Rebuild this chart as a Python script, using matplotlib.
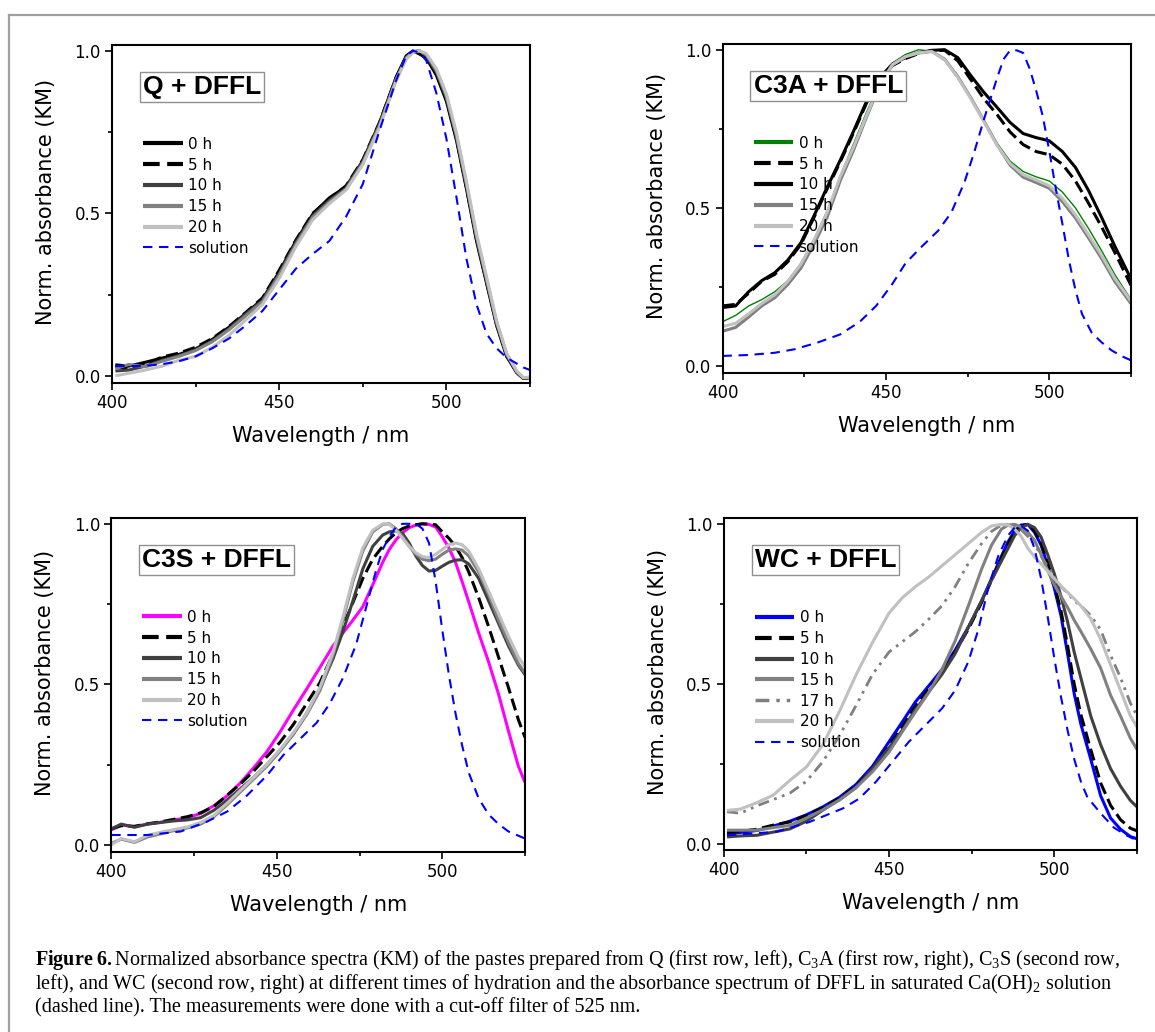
import matplotlib
matplotlib.use("Agg")
import matplotlib.pyplot as plt
from matplotlib.lines import Line2D

plt.rcParams["font.family"] = ["DejaVu Sans"]
plt.rcParams["mathtext.fontset"] = "custom"
plt.rcParams["mathtext.rm"] = "Liberation Serif"
plt.rcParams["mathtext.it"] = "Liberation Serif:italic"
plt.rcParams["mathtext.bf"] = "Liberation Serif:bold"

#DATA
#Q + DFFL
q_wl = [401, 405, 410, 415, 420, 425, 430, 435, 440, 445, 450, 455, 460, 465, 470, 475, 480, 485, 488, 490,
        492, 494, 497, 500, 503, 506, 509, 512, 515, 518, 521, 523, 525]
q_0h = [0.034, 0.030, 0.042, 0.055, 0.066, 0.083, 0.112, 0.150, 0.192, 0.236, 0.320, 0.415, 0.497, 0.548, 0.582,
        0.662, 0.778, 0.920, 0.985, 1.000, 0.990, 0.978, 0.925, 0.845, 0.725, 0.575, 0.415, 0.285, 0.155, 0.060,
        0.010, -0.008, -0.005]
q_5h = [0.028, 0.022, 0.035, 0.058, 0.070, 0.088, 0.115, 0.152, 0.195, 0.240, 0.325, 0.418, 0.500, 0.545, 0.585,
        0.665, 0.780, 0.918, 0.982, 0.998, 0.995, 0.980, 0.930, 0.850, 0.730, 0.580, 0.420, 0.290, 0.160, 0.062,
        0.012, -0.008, -0.005]
q_10h = [0.015, 0.018, 0.030, 0.048, 0.062, 0.080, 0.108, 0.145, 0.190, 0.232, 0.315, 0.410, 0.492, 0.540, 0.578,
         0.660, 0.775, 0.915, 0.980, 0.998, 1.000, 0.985, 0.935, 0.855, 0.735, 0.585, 0.425, 0.292, 0.160, 0.065,
         0.012, -0.008, -0.005]
q_15h = [0.022, 0.035, 0.028, 0.045, 0.060, 0.078, 0.105, 0.142, 0.185, 0.228, 0.310, 0.405, 0.488, 0.535, 0.575,
         0.655, 0.770, 0.912, 0.978, 0.997, 1.000, 0.988, 0.940, 0.860, 0.740, 0.590, 0.430, 0.298, 0.165, 0.068,
         0.014, -0.006, -0.005]
q_20h = [0.000, 0.008, 0.018, 0.030, 0.048, 0.060, 0.088, 0.125, 0.172, 0.220, 0.300, 0.398, 0.480, 0.530, 0.572,
         0.650, 0.765, 0.908, 0.975, 0.995, 1.000, 0.992, 0.945, 0.868, 0.748, 0.598, 0.438, 0.305, 0.170, 0.070,
         0.015, -0.005, -0.004]
q_sol = [0.030, 0.030, 0.031, 0.036, 0.045, 0.060, 0.085, 0.115, 0.155, 0.200, 0.265, 0.330, 0.375, 0.415, 0.490,
         0.590, 0.755, 0.910, 0.985, 1.000, 0.995, 0.970, 0.870, 0.730, 0.550, 0.360, 0.220, 0.130, 0.085, 0.056,
         0.038, 0.026, 0.018]

#C3A + DFFL
c3a_wl = [400, 404, 408, 412, 416, 420, 424, 428, 432, 436, 440, 444, 448, 452, 456, 460, 464, 468, 472, 476,
          480, 484, 488, 492, 496, 500, 504, 508, 512, 516, 520, 525]
c3a_0h = [0.140, 0.160, 0.190, 0.210, 0.235, 0.270, 0.325, 0.400, 0.490, 0.600, 0.700, 0.800, 0.895, 0.958, 0.985,
          1.000, 0.995, 0.965, 0.910, 0.845, 0.775, 0.705, 0.648, 0.615, 0.598, 0.585, 0.550, 0.500, 0.435, 0.365,
          0.290, 0.210]
c3a_5h = [0.190, 0.195, 0.230, 0.268, 0.290, 0.330, 0.385, 0.470, 0.560, 0.645, 0.735, 0.830, 0.905, 0.950, 0.972,
          0.988, 0.997, 0.998, 0.965, 0.905, 0.845, 0.795, 0.740, 0.700, 0.678, 0.668, 0.638, 0.585, 0.515, 0.440,
          0.360, 0.255]
c3a_10h = [0.185, 0.190, 0.235, 0.270, 0.295, 0.335, 0.390, 0.475, 0.565, 0.650, 0.740, 0.835, 0.910, 0.955, 0.975,
           0.990, 0.998, 1.000, 0.975, 0.918, 0.865, 0.818, 0.770, 0.735, 0.722, 0.712, 0.678, 0.628, 0.555, 0.470,
           0.380, 0.275]
c3a_15h = [0.110, 0.122, 0.155, 0.190, 0.216, 0.258, 0.310, 0.385, 0.470, 0.585, 0.680, 0.785, 0.885, 0.952, 0.978,
           0.990, 0.995, 0.970, 0.915, 0.848, 0.775, 0.700, 0.635, 0.597, 0.580, 0.562, 0.520, 0.468, 0.405, 0.340,
           0.268, 0.197]
c3a_20h = [0.125, 0.135, 0.165, 0.198, 0.225, 0.268, 0.322, 0.398, 0.485, 0.598, 0.690, 0.790, 0.888, 0.953, 0.978,
           0.990, 0.994, 0.968, 0.912, 0.845, 0.772, 0.698, 0.640, 0.605, 0.588, 0.570, 0.530, 0.478, 0.415, 0.350,
           0.278, 0.205]
c3a_sol_wl = [400, 408, 416, 422, 429, 436, 442, 447, 452, 456, 461, 466, 470, 474, 477, 480, 482, 484, 486, 488,
              490, 492, 494, 496, 498, 500, 502, 504, 506, 508, 510, 513, 516, 519, 522, 525]
c3a_sol = [0.032, 0.035, 0.042, 0.053, 0.074, 0.100, 0.140, 0.190, 0.260, 0.325, 0.378, 0.428, 0.485, 0.580, 0.675,
           0.780, 0.845, 0.910, 0.970, 0.998, 0.998, 0.990, 0.940, 0.870, 0.790, 0.680, 0.560, 0.450, 0.335, 0.240,
           0.165, 0.105, 0.075, 0.050, 0.032, 0.018]

#C3S + DFFL
c3s_wl = [400, 403, 407, 411, 415, 419, 423, 427, 431, 435, 439, 443, 447, 451, 455, 459, 463, 467, 470, 473, 476,
          479, 482, 484, 486, 488, 490, 492, 494, 496, 498, 500, 502, 504, 506, 508, 511, 514, 517, 520, 523, 525]
c3s_0h = [0.047, 0.062, 0.057, 0.065, 0.071, 0.078, 0.085, 0.098, 0.122, 0.153, 0.193, 0.240, 0.290, 0.352, 0.420,
          0.485, 0.552, 0.620, 0.660, 0.700, 0.742, 0.810, 0.880, 0.920, 0.950, 0.972, 0.988, 0.996, 1.000, 0.998,
          0.990, 0.960, 0.925, 0.880, 0.820, 0.757, 0.660, 0.570, 0.470, 0.355, 0.245, 0.195]
c3s_5h = [0.050, 0.060, 0.058, 0.066, 0.072, 0.080, 0.088, 0.100, 0.120, 0.155, 0.190, 0.230, 0.275, 0.320, 0.375,
          0.440, 0.505, 0.595, 0.680, 0.755, 0.830, 0.890, 0.930, 0.953, 0.972, 0.985, 0.993, 0.997, 1.000, 0.999,
          0.997, 0.975, 0.955, 0.930, 0.895, 0.850, 0.770, 0.680, 0.585, 0.490, 0.390, 0.335]
c3s_10h = [0.050, 0.065, 0.055, 0.065, 0.070, 0.075, 0.078, 0.085, 0.108, 0.140, 0.175, 0.210, 0.250, 0.295, 0.345,
           0.410, 0.485, 0.580, 0.665, 0.760, 0.860, 0.930, 0.965, 0.975, 0.978, 0.970, 0.940, 0.900, 0.870, 0.853,
           0.855, 0.868, 0.880, 0.887, 0.888, 0.875, 0.830, 0.760, 0.690, 0.620, 0.560, 0.530]
c3s_15h = [0.005, 0.018, 0.008, 0.025, 0.035, 0.045, 0.053, 0.065, 0.088, 0.125, 0.165, 0.205, 0.245, 0.292, 0.345,
           0.405, 0.480, 0.590, 0.700, 0.820, 0.915, 0.975, 0.998, 1.000, 0.985, 0.960, 0.930, 0.905, 0.890, 0.885,
           0.890, 0.905, 0.918, 0.922, 0.918, 0.900, 0.850, 0.780, 0.700, 0.630, 0.565, 0.535]
c3s_20h = [0.000, 0.020, 0.010, 0.030, 0.040, 0.048, 0.056, 0.070, 0.092, 0.130, 0.170, 0.210, 0.250, 0.297, 0.350,
           0.410, 0.490, 0.600, 0.710, 0.830, 0.925, 0.980, 1.000, 0.998, 0.980, 0.955, 0.930, 0.910, 0.898, 0.895,
           0.905, 0.920, 0.935, 0.940, 0.935, 0.915, 0.860, 0.790, 0.720, 0.650, 0.585, 0.555]
c3s_sol_wl = [400, 411, 421, 429, 435, 441, 447, 452, 457, 462, 466, 470, 474, 477, 480, 482, 484, 486, 488, 490,
              492, 494, 496, 498, 500, 502, 504, 506, 508, 511, 514, 517, 520, 525]
c3s_sol = [0.031, 0.031, 0.042, 0.073, 0.104, 0.154, 0.216, 0.280, 0.330, 0.380, 0.440, 0.520, 0.625, 0.740, 0.855,
           0.920, 0.960, 0.990, 1.000, 1.000, 1.000, 0.985, 0.940, 0.820, 0.670, 0.530, 0.410, 0.310, 0.225, 0.145,
           0.095, 0.065, 0.042, 0.020]

#WC + DFFL
wc_wl = [401, 405, 410, 415, 420, 425, 430, 435, 440, 445, 450, 454, 458, 462, 466, 470, 474, 478, 481, 484, 486,
         488, 490, 492, 494, 496, 498, 500, 502, 504, 506, 508, 511, 514, 517, 520, 523, 525]
wc_0h = [0.030, 0.035, 0.041, 0.055, 0.070, 0.090, 0.115, 0.145, 0.185, 0.242, 0.319, 0.381, 0.444, 0.494, 0.545,
         0.606, 0.678, 0.760, 0.830, 0.900, 0.945, 0.980, 0.998, 1.000, 0.975, 0.935, 0.870, 0.800, 0.715, 0.595,
         0.470, 0.375, 0.265, 0.150, 0.080, 0.045, 0.022, 0.015]
wc_5h = [0.035, 0.038, 0.045, 0.058, 0.068, 0.088, 0.112, 0.142, 0.180, 0.235, 0.305, 0.365, 0.430, 0.485, 0.538,
         0.600, 0.672, 0.755, 0.825, 0.895, 0.940, 0.975, 0.995, 1.000, 0.980, 0.940, 0.880, 0.810, 0.730, 0.620,
         0.500, 0.405, 0.295, 0.190, 0.120, 0.075, 0.048, 0.040]
wc_10h = [0.021, 0.024, 0.026, 0.036, 0.046, 0.070, 0.105, 0.138, 0.175, 0.235, 0.300, 0.355, 0.420, 0.475, 0.530,
          0.595, 0.678, 0.760, 0.825, 0.885, 0.925, 0.965, 0.990, 1.000, 0.990, 0.960, 0.905, 0.845, 0.775, 0.695,
          0.600, 0.520, 0.400, 0.310, 0.235, 0.180, 0.135, 0.115]
wc_15h = [0.042, 0.042, 0.042, 0.050, 0.057, 0.080, 0.106, 0.136, 0.175, 0.225, 0.287, 0.350, 0.413, 0.473, 0.545,
          0.635, 0.745, 0.860, 0.935, 0.985, 0.998, 1.000, 0.992, 0.975, 0.950, 0.905, 0.855, 0.810, 0.775, 0.740,
          0.700, 0.665, 0.610, 0.550, 0.465, 0.400, 0.330, 0.295]
wc_17h = [0.100, 0.095, 0.118, 0.138, 0.158, 0.195, 0.257, 0.338, 0.432, 0.530, 0.600, 0.632, 0.664, 0.703, 0.745,
          0.805, 0.878, 0.940, 0.978, 0.998, 1.000, 0.995, 0.983, 0.962, 0.940, 0.900, 0.868, 0.835, 0.805, 0.785,
          0.760, 0.745, 0.715, 0.670, 0.590, 0.520, 0.440, 0.400]
wc_20h = [0.104, 0.108, 0.128, 0.152, 0.198, 0.240, 0.310, 0.414, 0.528, 0.630, 0.722, 0.770, 0.805, 0.835, 0.870,
          0.905, 0.940, 0.975, 0.995, 1.000, 0.998, 0.985, 0.962, 0.925, 0.898, 0.876, 0.853, 0.830, 0.807, 0.787,
          0.767, 0.745, 0.705, 0.640, 0.560, 0.480, 0.400, 0.365]
wc_sol_wl = [401, 416, 426, 436, 441, 446, 451, 456, 461, 466, 470, 474, 477, 480, 483, 486, 488, 490, 492, 494,
             496, 498, 500, 502, 504, 506, 508, 510, 514, 518, 522, 524]
wc_sol = [0.026, 0.037, 0.068, 0.110, 0.141, 0.193, 0.256, 0.319, 0.371, 0.423, 0.480, 0.570, 0.670, 0.800, 0.900,
          0.965, 0.990, 0.995, 0.980, 0.925, 0.830, 0.710, 0.580, 0.460, 0.355, 0.265, 0.195, 0.145, 0.095, 0.050,
          0.025, 0.015]

#STYLES
BLK, DG, MG, LG = "#000000", "#404040", "#808080", "#c0c0c0"
DASH = (0, (4, 1.8))
SOL_DASH = (0, (4.5, 3.2))
DASHDOT = (0, (4, 2, 1, 2, 1, 2))

W, H = 1155, 1032
fig = plt.figure(figsize=(W / 100, H / 100), dpi=100)


def px_rect(left, right, top, bottom):
    return [left / W, 1 - bottom / H, (right - left) / W, (bottom - top) / H]


def draw_panel(rect, title, wl, series, sol_wl, sol):
    ax = fig.add_axes(rect)
    handles = []
    for vals, lab, col, ls, lw, hlw in series:
        ln, = ax.plot(wl, vals, color=col, linestyle=ls, lw=lw, label=lab, solid_capstyle="butt")
        handles.append((ln, hlw))
    ln, = ax.plot(sol_wl, sol, color="#0000ff", linestyle=SOL_DASH, lw=1.5, label="solution")
    handles.append((ln, 1.5))

    ax.set_xlim(400, 525)
    ax.set_ylim(-0.021, 1.019)
    ax.set_xticks([400, 450, 500])
    ax.set_xticks([425, 475, 525], minor=True)
    ax.set_yticks([0.0, 0.5, 1.0])
    ax.set_yticks([0.25, 0.75], minor=True)
    ax.set_yticklabels(["0.0", "0.5", "1.0"])
    ax.tick_params(which="major", direction="out", length=5, width=1.2, labelsize=12, pad=3, top=False, right=False)
    ax.tick_params(which="minor", direction="out", length=3, width=1.2, top=False, right=False)
    for s in ax.spines.values():
        s.set_linewidth(1.5)

    axw = rect[2] * W
    axh = rect[3] * H
    ax.set_xlabel("Wavelength / nm", fontsize=15)
    ax.xaxis.set_label_coords(0.5, -53 / axh)
    ax.xaxis.label.set_va("center")
    ax.set_ylabel("Norm. absorbance (KM)", fontsize=15)
    ax.yaxis.set_label_coords(-66 / axw, 0.5 + 12 / axh)
    ax.yaxis.label.set_va("center")

    ax.annotate(title, xy=(0, 1), xycoords="axes fraction", xytext=(31, -30), textcoords="offset pixels",
                ha="left", va="top", fontsize=19, fontweight="bold", family="Liberation Sans",
                bbox=dict(boxstyle="square,pad=0.12", fc="white", ec="#909090", lw=1.0))

    leg = ax.legend([h for h, _ in handles], [h.get_label() for h, _ in handles],
                    loc="upper left", bbox_to_anchor=(31 / axw, 1 - 92 / axh), frameon=False,
                    fontsize=11, handlelength=2.6, handletextpad=0.35, labelspacing=0.38,
                    borderpad=0, borderaxespad=0)
    for lh, (_, hlw) in zip(leg.legend_handles, handles):
        lh.set_linewidth(hlw)
    return ax


#PANELS
draw_panel(px_rect(112, 530, 44.7, 382.7), "Q + DFFL", q_wl,
           [(q_0h, "0 h", BLK, "-", 2.2, 3.0),
            (q_5h, "5 h", BLK, DASH, 2.2, 3.0),
            (q_10h, "10 h", DG, "-", 2.2, 3.0),
            (q_15h, "15 h", MG, "-", 2.2, 3.0),
            (q_20h, "20 h", LG, "-", 2.2, 3.0)], q_wl, q_sol)

draw_panel(px_rect(722.5, 1131, 43.7, 372.7), "C3A + DFFL", c3a_wl,
           [(c3a_0h, "0 h", "#008000", "-", 1.0, 3.0),
            (c3a_5h, "5 h", BLK, DASH, 2.2, 3.0),
            (c3a_10h, "10 h", BLK, "-", 2.2, 3.0),
            (c3a_15h, "15 h", MG, "-", 2.2, 3.0),
            (c3a_20h, "20 h", LG, "-", 2.2, 3.0)], c3a_sol_wl, c3a_sol)

draw_panel(px_rect(111.3, 525, 517.7, 851.7), "C3S + DFFL", c3s_wl,
           [(c3s_0h, "0 h", "#ff00ff", "-", 2.2, 3.0),
            (c3s_5h, "5 h", BLK, DASH, 2.2, 3.0),
            (c3s_10h, "10 h", DG, "-", 2.2, 3.0),
            (c3s_15h, "15 h", MG, "-", 2.2, 3.0),
            (c3s_20h, "20 h", LG, "-", 2.2, 3.0)], c3s_sol_wl, c3s_sol)

draw_panel(px_rect(723.7, 1137, 518.3, 850.3), "WC + DFFL", wc_wl,
           [(wc_0h, "0 h", "#0000ff", "-", 2.2, 3.0),
            (wc_5h, "5 h", BLK, DASH, 2.2, 3.0),
            (wc_10h, "10 h", DG, "-", 2.2, 3.0),
            (wc_15h, "15 h", MG, "-", 2.2, 3.0),
            (wc_17h, "17 h", MG, DASHDOT, 2.0, 2.5),
            (wc_20h, "20 h", LG, "-", 2.2, 3.0)], wc_sol_wl, wc_sol)

#FRAME AND CAPTION
fig.add_artist(Line2D([9 / W, 1], [1 - 15 / H, 1 - 15 / H], color="#a0a0a0", lw=1.6))
fig.add_artist(Line2D([9 / W, 9 / W], [0, 1 - 15 / H], color="#a0a0a0", lw=1.6))

caption = [
    r"$\mathbf{Figure\ 6.}$Normalized absorbance spectra (KM) of the pastes prepared from Q (first row, left), "
    r"C$_3$A (first row, right), C$_3$S (second row,",
    r"left), and WC (second row, right) at different times of hydration and the absorbance spectrum of DFFL "
    r"in saturated Ca(OH)$_2$ solution",
    "(dashed line). The measurements were done with a cut-off filter of 525 nm.",
]
for i, line in enumerate(caption):
    fig.text(35 / W, 1 - (960 + 24 * i) / H, line, ha="left", va="center", fontsize=14.5,
             family="Liberation Serif")

fig.savefig("out.png", dpi=100)
